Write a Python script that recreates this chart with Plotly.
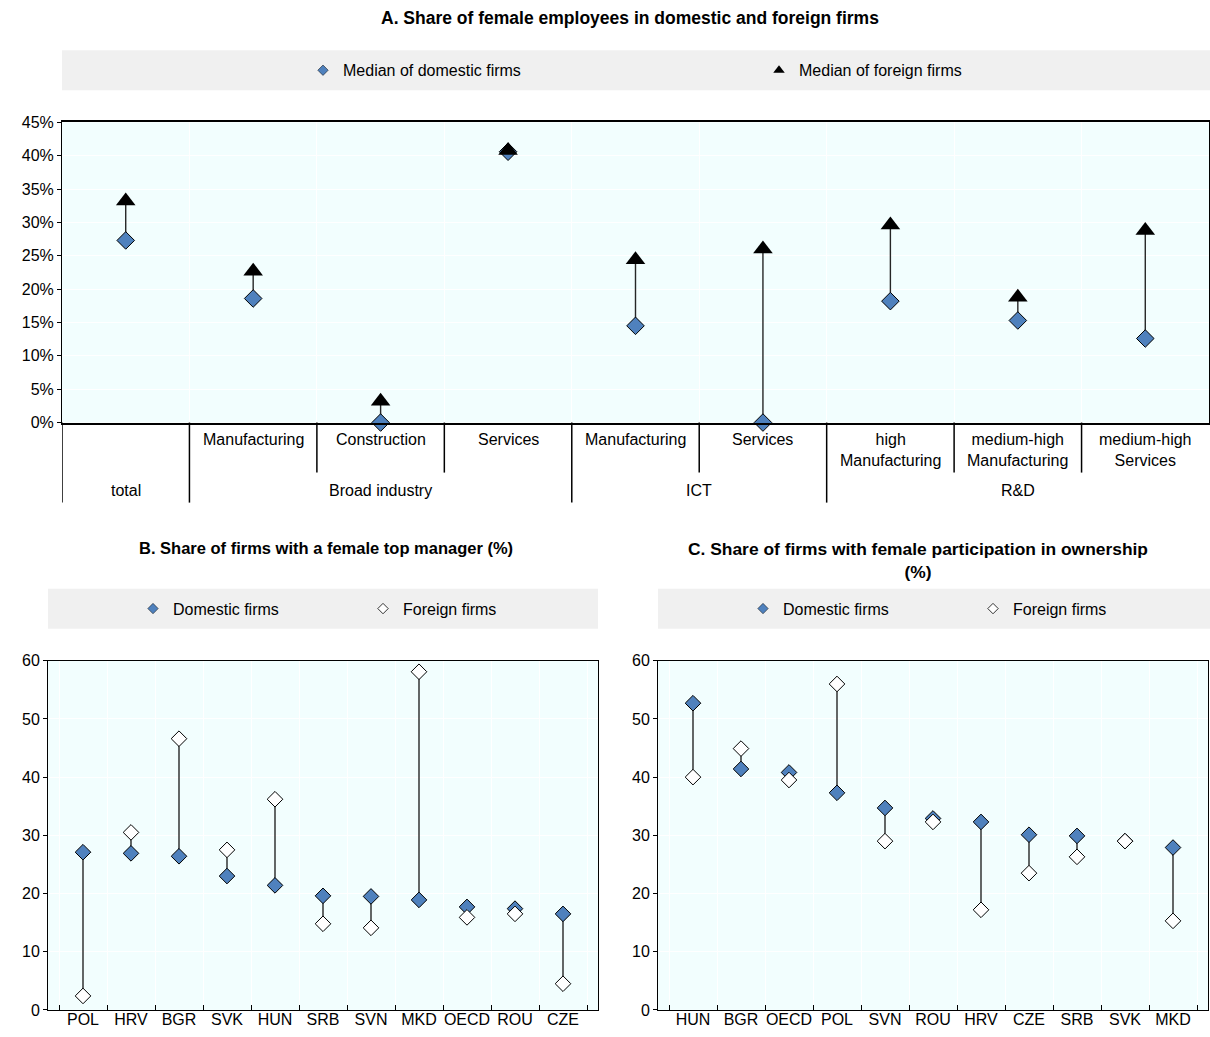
import plotly.graph_objects as go

# ---------------- Data ----------------
# Panel A
a_groups = ["total", "Broad industry", "Broad industry", "Broad industry", "ICT", "ICT", "R&D", "R&D", "R&D"]
a_sub = ["", "Manufacturing", "Construction", "Services", "Manufacturing", "Services",
         "high<br>Manufacturing", "medium-high<br>Manufacturing", "medium-high<br>Services"]
a_domestic = [27.3, 18.6, 0.0, 40.6, 14.5, 0.0, 18.2, 15.3, 12.6]
a_foreign = [33.2, 22.7, 3.2, 40.8, 24.4, 26.0, 29.6, 18.8, 28.8]

# Panel B
b_countries = ["POL", "HRV", "BGR", "SVK", "HUN", "SRB", "SVN", "MKD", "OECD", "ROU", "CZE"]
b_domestic = [27.1, 26.9, 26.4, 23.0, 21.4, 19.6, 19.5, 18.9, 17.7, 17.4, 16.5]
b_foreign = [2.4, 30.5, 46.6, 27.5, 36.2, 14.8, 14.1, 58.1, 15.9, 16.5, 4.5]

# Panel C
c_countries = ["HUN", "BGR", "OECD", "POL", "SVN", "ROU", "HRV", "CZE", "SRB", "SVK", "MKD"]
c_domestic = [52.7, 41.4, 40.8, 37.3, 34.7, 32.9, 32.3, 30.1, 29.9, 29.0, 27.9]
c_foreign = [40.0, 44.9, 39.5, 56.0, 29.0, 32.3, 17.2, 23.5, 26.3, 29.0, 15.3]

# ---------------- Styling ----------------
W, H = 1210, 1037
Y_OFF, Y_SCALE = 7.7, 0.983  # correction for the vertical placement observed in the photographed page
FONT = "Liberation Sans, Arial, sans-serif"
BLUE = "#4F81BD"
PLOTBG = "#F2FEFE"
LEGBG = "#F0F0F0"
LINEC = "#262626"


def px(x):
    return x / W


def py(y):
    return 1 - ((y - Y_OFF) / Y_SCALE) / H


fig = go.Figure()


def connectors(xs, y1, y2, xaxis, yaxis):
    lx, ly = [], []
    for x, a, b in zip(xs, y1, y2):
        lx += [x, x, None]
        ly += [a, b, None]
    return go.Scatter(x=lx, y=ly, mode="lines", line=dict(color=LINEC, width=1.4),
                      xaxis=xaxis, yaxis=yaxis, showlegend=False, hoverinfo="skip")


# ---------- Panel A ----------
a_x = list(range(len(a_sub)))
fig.add_trace(connectors(a_x, a_domestic, a_foreign, "x", "y"))
fig.add_trace(go.Scatter(x=a_x, y=a_domestic, mode="markers", name="Median of domestic firms",
                         marker=dict(symbol="diamond", size=13.5, color=BLUE, line=dict(color="black", width=1)),
                         xaxis="x", yaxis="y", showlegend=False, cliponaxis=False))
fig.add_trace(go.Scatter(x=a_x, y=a_foreign, mode="markers", name="Median of foreign firms",
                         marker=dict(symbol="triangle-up", size=17, color="black", line=dict(color="black", width=0)),
                         xaxis="x", yaxis="y", showlegend=False, cliponaxis=False))
# legend entries
fig.add_trace(go.Scatter(x=[None], y=[None], mode="markers", name="Median of domestic firms",
                         marker=dict(symbol="diamond", size=8, color=BLUE, line=dict(color="black", width=0.5)),
                         xaxis="x", yaxis="y", legend="legend"))
fig.add_trace(go.Scatter(x=[None], y=[None], mode="markers", name="Median of foreign firms",
                         marker=dict(symbol="triangle-up", size=10, color="black"),
                         xaxis="x", yaxis="y", legend="legend2"))

# ---------- Panel B ----------
fig.add_trace(connectors(b_countries, b_domestic, b_foreign, "x2", "y2"))
fig.add_trace(go.Scatter(x=b_countries, y=b_domestic, mode="markers", name="Domestic firms",
                         marker=dict(symbol="diamond", size=12, color=BLUE, line=dict(color="black", width=1)),
                         xaxis="x2", yaxis="y2", showlegend=False, cliponaxis=False))
fig.add_trace(go.Scatter(x=b_countries, y=b_foreign, mode="markers", name="Foreign firms",
                         marker=dict(symbol="diamond", size=12, color="white", line=dict(color="black", width=1)),
                         xaxis="x2", yaxis="y2", showlegend=False, cliponaxis=False))
fig.add_trace(go.Scatter(x=[None], y=[None], mode="markers", name="Domestic firms",
                         marker=dict(symbol="diamond", size=8, color=BLUE, line=dict(color="black", width=0.5)),
                         xaxis="x2", yaxis="y2", legend="legend3"))
fig.add_trace(go.Scatter(x=[None], y=[None], mode="markers", name="Foreign firms",
                         marker=dict(symbol="diamond", size=8, color="white", line=dict(color="black", width=0.8)),
                         xaxis="x2", yaxis="y2", legend="legend4"))

# ---------- Panel C ----------
fig.add_trace(connectors(c_countries, c_domestic, c_foreign, "x3", "y3"))
fig.add_trace(go.Scatter(x=c_countries, y=c_domestic, mode="markers", name="Domestic firms",
                         marker=dict(symbol="diamond", size=12, color=BLUE, line=dict(color="black", width=1)),
                         xaxis="x3", yaxis="y3", showlegend=False, cliponaxis=False))
fig.add_trace(go.Scatter(x=c_countries, y=c_foreign, mode="markers", name="Foreign firms",
                         marker=dict(symbol="diamond", size=12, color="white", line=dict(color="black", width=1)),
                         xaxis="x3", yaxis="y3", showlegend=False, cliponaxis=False))
fig.add_trace(go.Scatter(x=[None], y=[None], mode="markers", name="Domestic firms",
                         marker=dict(symbol="diamond", size=8, color=BLUE, line=dict(color="black", width=0.5)),
                         xaxis="x3", yaxis="y3", legend="legend5"))
fig.add_trace(go.Scatter(x=[None], y=[None], mode="markers", name="Foreign firms",
                         marker=dict(symbol="diamond", size=8, color="white", line=dict(color="black", width=0.8)),
                         xaxis="x3", yaxis="y3", legend="legend6"))

# ---------------- Layout ----------------
A_L, A_R, A_T, A_B = 62, 1209, 122, 422
B_L, B_R, B_T, B_B = 48, 598, 660, 1009
C_L, C_R = 658, 1208

axis_common = dict(showline=True, linecolor="black", mirror=True, tickfont=dict(size=16, color="black", family=FONT))

n_a = len(a_sub)
fig.update_layout(
    width=W, height=H, autosize=False,
    margin=dict(l=0, r=0, t=0, b=0),
    paper_bgcolor="white", plot_bgcolor=PLOTBG,
    font=dict(family=FONT, size=16, color="black"),
    xaxis=dict(domain=[px(A_L), px(A_R)], anchor="y", range=[-0.5, n_a - 0.5],
               tickvals=[i + 0.5 for i in range(n_a - 1)], showticklabels=False, ticks="",
               showgrid=True, gridcolor="white", gridwidth=1, zeroline=False,
               showline=True, linecolor="black", linewidth=2, mirror=True),
    yaxis=dict(domain=[py(A_B), py(A_T)], anchor="x", range=[0, 45], dtick=5, ticksuffix="%",
               ticks="outside", ticklen=4, tickcolor="black",
               showgrid=True, gridcolor="white", gridwidth=1, zeroline=False, **axis_common),
    xaxis2=dict(domain=[px(B_L), px(B_R)], anchor="y2", type="category", tickson="boundaries", tickangle=0,
                ticklabelstandoff=-5,
                ticks="inside", ticklen=5, tickcolor="black", showgrid=True, gridcolor="white", **axis_common),
    yaxis2=dict(domain=[py(B_B), py(B_T)], anchor="x2", range=[0, 60], dtick=10,
                ticks="outside", ticklen=4, tickcolor="black",
                showgrid=True, gridcolor="white", zeroline=False, **axis_common),
    xaxis3=dict(domain=[px(C_L), px(C_R)], anchor="y3", type="category", tickson="boundaries", tickangle=0,
                ticklabelstandoff=-5,
                ticks="inside", ticklen=5, tickcolor="black", showgrid=True, gridcolor="white", **axis_common),
    yaxis3=dict(domain=[py(B_B), py(B_T)], anchor="x3", range=[0, 60], dtick=10,
                ticks="outside", ticklen=4, tickcolor="black",
                showgrid=True, gridcolor="white", zeroline=False, **axis_common),
)

leg_common = dict(bgcolor="rgba(0,0,0,0)", borderwidth=0, orientation="h", xanchor="left", yanchor="middle",
                  itemsizing="trace", font=dict(size=16, family=FONT, color="black"))
fig.update_layout(
    legend=dict(x=px(303), y=py(70), **leg_common),
    legend2=dict(x=px(759), y=py(70), **leg_common),
    legend3=dict(x=px(133), y=py(608), **leg_common),
    legend4=dict(x=px(363), y=py(608), **leg_common),
    legend5=dict(x=px(743), y=py(608), **leg_common),
    legend6=dict(x=px(973), y=py(608), **leg_common),
)

shapes = []
# legend boxes
for (l, r, t, b) in [(62, 1210, 50, 90), (48, 598, 588, 628), (658, 1210, 588, 628)]:
    shapes.append(dict(type="rect", xref="paper", yref="paper", x0=px(l), x1=px(r), y0=py(b), y1=py(t),
                       fillcolor=LEGBG, line=dict(width=0), layer="below"))

# Panel A category dividers below axis
ROW1_END, ROW2_END = 472, 502
shapes.append(dict(type="line", xref="x", yref="paper", x0=-0.5, x1=-0.5, y0=py(A_B), y1=py(ROW2_END),
                   line=dict(color="black", width=1.5)))
for i in range(n_a - 1):
    end = ROW1_END if a_groups[i] == a_groups[i + 1] else ROW2_END
    shapes.append(dict(type="line", xref="x", yref="paper", x0=i + 0.5, x1=i + 0.5, y0=py(A_B), y1=py(end),
                       line=dict(color="black", width=1.5)))
fig.update_layout(shapes=shapes)

annotations = []
# titles
annotations.append(dict(text="<b>A. Share of female employees in domestic and foreign firms</b>",
                        xref="paper", yref="paper", x=px(630), y=py(18), showarrow=False,
                        xanchor="center", yanchor="middle", font=dict(size=17.5)))
annotations.append(dict(text="<b>B. Share of firms with a female top manager (%)</b>",
                        xref="paper", yref="paper", x=px(326), y=py(547), showarrow=False,
                        xanchor="center", yanchor="middle", font=dict(size=16.5)))
annotations.append(dict(text="<b>C. Share of firms with female participation in ownership<br>(%)</b>",
                        xref="paper", yref="paper", x=px(918), y=py(536), showarrow=False,
                        xanchor="center", yanchor="top", font=dict(size=17.4)))
# Panel A sub labels
for i, lab in enumerate(a_sub):
    if lab:
        annotations.append(dict(text=lab, xref="x", yref="paper", x=i, y=py(428), showarrow=False,
                                xanchor="center", yanchor="top", font=dict(size=16)))
# Panel A group labels
seen = []
for g in a_groups:
    if g not in seen:
        seen.append(g)
for g in seen:
    idx = [i for i, gg in enumerate(a_groups) if gg == g]
    annotations.append(dict(text=g, xref="x", yref="paper", x=(idx[0] + idx[-1]) / 2, y=py(490), showarrow=False,
                            xanchor="center", yanchor="middle", font=dict(size=16)))
fig.update_layout(annotations=annotations)

POST = (
    "document.documentElement.style.margin='0';document.documentElement.style.padding='0';"
    "document.body.style.margin='0';document.body.style.padding='0';"
    "var gd=document.querySelector('.plotly-graph-div');"
    "gd.style.position='absolute';gd.style.top='0px';gd.style.left='0px';"
    "document.body.style.overflow='hidden';"
    "document.documentElement.style.overflow='hidden';"
)
fig.write_html("out.html", config={"displayModeBar": False}, post_script=POST)
